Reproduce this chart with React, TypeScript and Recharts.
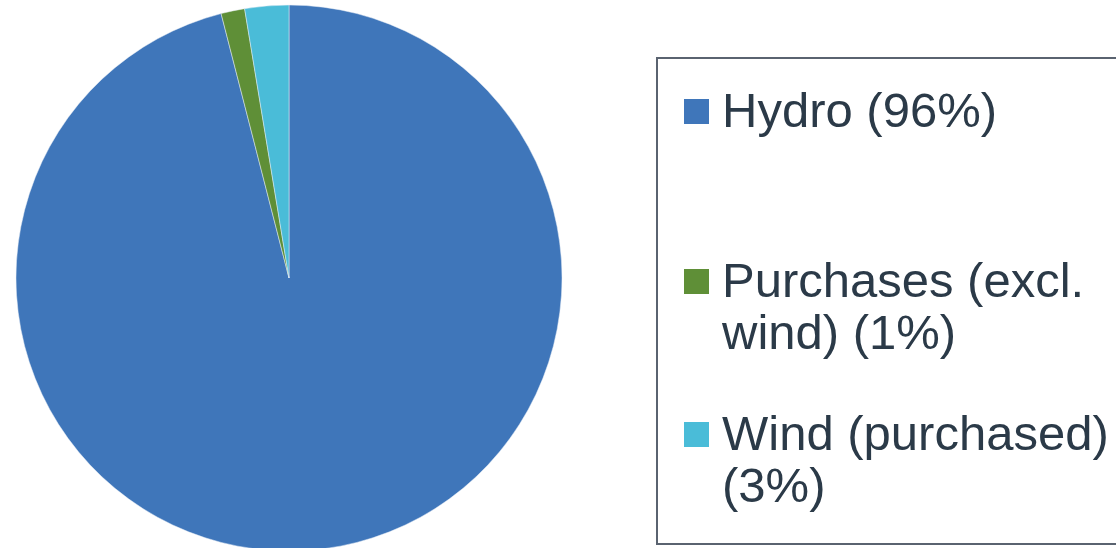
import { PieChart, Pie, Cell, Legend } from "recharts";

const sources = ["Hydro", "Purchases (excl. wind)", "Wind (purchased)"];
const shares = [96.0, 1.4, 2.6];
const colors = ["#3F76BA", "#5F8F37", "#4ABCD8"];

const total = shares.reduce((a, b) => a + b, 0);
const data = sources.map((name, i) => ({
  name,
  value: shares[i],
  label: `${name} (${Math.round((shares[i] / total) * 100)}%)`,
}));

// top offset of each legend item inside the box
const itemTops = [25, 195, 348];

function LegendBox() {
  return (
    <div
      style={{
        position: "relative",
        width: 470,
        height: 488,
        boxSizing: "border-box",
        border: "2px solid #5A6370",
        background: "#fff",
        fontFamily: '"Liberation Sans", Arial, sans-serif',
        fontSize: 49,
        lineHeight: "52px",
        color: "#2B3A48",
      }}
    >
      {data.map((d, i) => (
        <div key={d.name} style={{ position: "absolute", left: 0, top: itemTops[i], width: 466 }}>
          <div
            style={{
              position: "absolute",
              left: 26,
              top: 15,
              width: 25,
              height: 25,
              background: colors[i],
            }}
          />
          <div style={{ position: "absolute", left: 64, top: 0, width: 400 }}>{d.label}</div>
        </div>
      ))}
    </div>
  );
}

export default function App() {
  return (
    <div style={{ width: 1116, height: 548, overflow: "hidden", background: "#fff" }}>
      <style>{`body{margin:0;overflow:hidden}`}</style>
      <PieChart width={1116} height={548} margin={{ top: 0, right: 0, bottom: 0, left: 0 }}>
        <Pie
          data={data}
          dataKey="value"
          nameKey="name"
          cx={289}
          cy={278}
          outerRadius={273}
          startAngle={90}
          endAngle={-270}
          stroke="#e8eef6"
          strokeWidth={0.5}
          isAnimationActive={false}
        >
          {data.map((d, i) => (
            <Cell key={d.name} fill={colors[i]} />
          ))}
        </Pie>
        <Legend
          content={() => <LegendBox />}
          wrapperStyle={{ position: "absolute", left: 656, top: 57, width: 470, height: 488 }}
        />
      </PieChart>
    </div>
  );
}
